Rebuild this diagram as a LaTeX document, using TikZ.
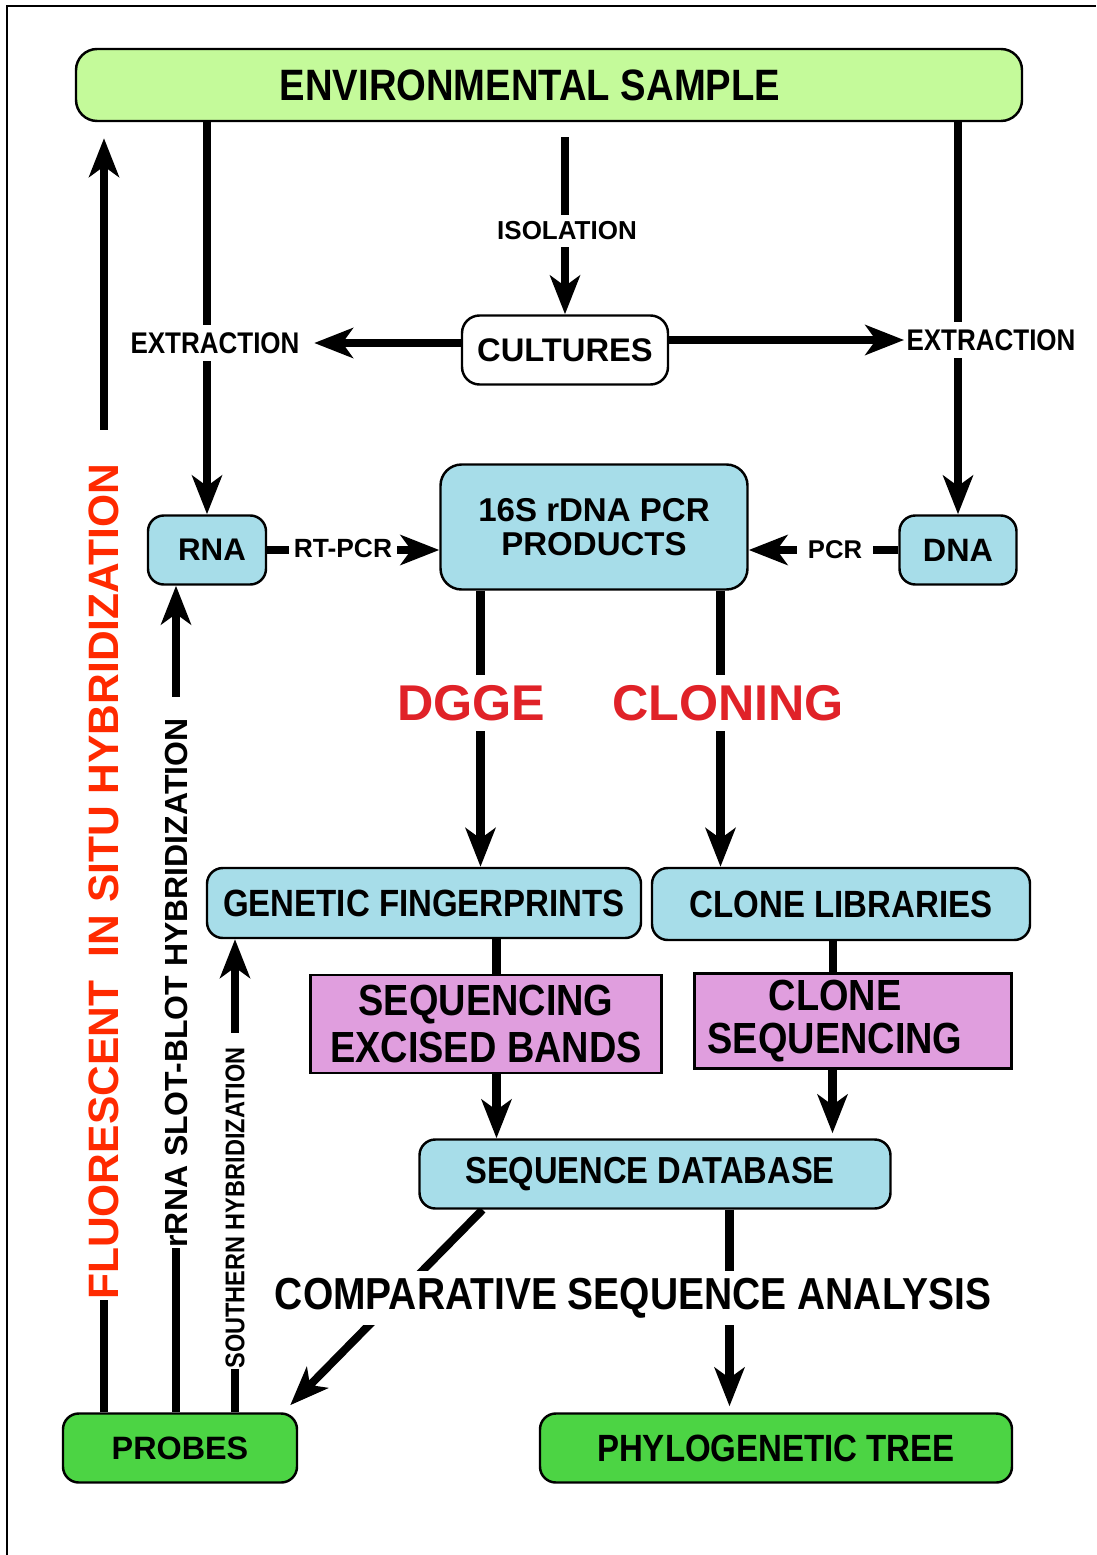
\documentclass[tikz,border=0pt]{standalone}
\usepackage{fontspec}
\setmainfont{Liberation Sans}
\newfontfamily\narrowsf[FakeStretch=0.87]{Liberation Sans}
\usetikzlibrary{arrows.meta, backgrounds}

\definecolor{envgreen}{HTML}{C4FA9A}
\definecolor{boxblue}{HTML}{A7DDE9}
\definecolor{seqpink}{HTML}{E09EDE}
\definecolor{probegreen}{HTML}{4CD444}
\definecolor{dggered}{HTML}{E02228}
\definecolor{fishred}{HTML}{FF2A00}

\newcommand{\fsz}[2]{\fontsize{#1}{#2}\selectfont}

\begin{document}
\begin{tikzpicture}[x=0.1mm, y=-0.1mm,
  box/.style={draw, line width=0.7pt, rounded corners=4.5pt, fill=boxblue, inner sep=0pt, align=center, font=\bfseries},
  seqbox/.style={box, rounded corners=0pt, fill=seqpink, font=\bfseries\narrowsf\fsz{12.4pt}{10.8pt}},
  endbox/.style={box, fill=probegreen, minimum height=6.9mm},
  lbl/.style={fill=white, inner xsep=1.5pt, inner ysep=2pt, font=\bfseries},
  vlbl/.style={rotate=90, inner sep=0pt, font=\bfseries},
  conn/.style={line width=2.3pt},
  arr/.style={conn, -{Stealth[length=11pt, width=8.5pt, inset=3pt]}}]
\useasboundingbox (0,0) rectangle (1096,1555);
\draw[line width=0.7pt] (7,1555) -- (7,6) -- (1096,6);

\node[box, fill=envgreen, rounded corners=6pt, minimum width=94.6mm, minimum height=7.2mm] (env) at (549,85) {\narrowsf\fsz{12.5pt}{12.5pt}ENVIRONMENTAL SAMPLE\hspace*{3.8mm}};
\node[box, fill=white, rounded corners=5pt, minimum width=20.6mm, minimum height=6.9mm] (cultures) at (565,350) {\fsz{9.3pt}{9.3pt}CULTURES};
\node[box, minimum width=11.8mm, minimum height=6.9mm] (rna) at (207,550) {\fsz{8.9pt}{8.9pt}\hspace*{1mm}RNA};
\node[box, rounded corners=6pt, minimum width=30.7mm, minimum height=12.5mm, font=\bfseries\fsz{9.4pt}{9.7pt}] (pcr) at (594,527) {16S rDNA PCR\\PRODUCTS};
\node[box, minimum width=11.7mm, minimum height=6.9mm] (dna) at (958,550) {\fsz{9.2pt}{9.2pt}DNA};
\node[box, minimum width=43.4mm, minimum height=7mm] (gf) at (424,903) {\narrowsf\fsz{10.8pt}{10.8pt}GENETIC FINGERPRINTS};
\node[box, minimum width=37.8mm, minimum height=7.2mm] (cl) at (841,904) {\narrowsf\fsz{10.8pt}{10.8pt}CLONE LIBRARIES};
\node[seqbox, minimum width=35.1mm, minimum height=9.8mm] (seb) at (486,1024) {SEQUENCING\\[1.5pt]EXCISED BANDS};
\node[seqbox, minimum width=31.7mm, minimum height=9.5mm] (cs) at (853,1021) {CLONE\hspace*{3.6mm}\\[1.5pt]SEQUENCING\hspace*{3.6mm}};
\node[box, minimum width=47.1mm, minimum height=6.9mm] (sd) at (655,1174) {\narrowsf\fsz{10.7pt}{10.7pt}SEQUENCE DATABASE\hspace*{1mm}};
\node[endbox, minimum width=23.4mm] (probes) at (180,1448) {\fsz{9.2pt}{9.2pt}PROBES};
\node[endbox, minimum width=47.2mm] (tree) at (776,1448) {\narrowsf\fsz{10.8pt}{10.8pt}PHYLOGENETIC TREE};

\node[lbl] (iso) at (567,231) {\fsz{7.4pt}{7.4pt}ISOLATION};
\node[lbl, inner xsep=1pt] (extl) at (215,343) {\narrowsf\fsz{8.5pt}{8.5pt}EXTRACTION};
\node[lbl, inner xsep=0.5pt] (extr) at (991,340) {\narrowsf\fsz{8.5pt}{8.5pt}EXTRACTION};
\node[lbl] (rtpcr) at (343,548) {\fsz{7.5pt}{7.5pt}RT-PCR};
\node[lbl, inner xsep=3pt] (pcrl) at (835,550) {\fsz{7.3pt}{7.3pt}PCR};
\node[lbl, text=dggered, inner ysep=3pt] (dgge) at (471,703) {\fsz{14.3pt}{14.3pt}DGGE};
\node[lbl, text=dggered, inner ysep=3pt] (cloning) at (728,703) {\fsz{14.3pt}{14.3pt}CLONING};
\node[lbl] (csa) at (633,1298) {\narrowsf\fsz{12.75pt}{12.75pt}COMPARATIVE SEQUENCE ANALYSIS};
\node[vlbl, text=fishred] (fish) at (104,882) {\fsz{12.1pt}{12.1pt}FLUORESCENT~~IN SITU HYBRIDIZATION};
\node[vlbl] (slot) at (176,983) {\fsz{9.1pt}{9.1pt}rRNA SLOT-BLOT HYBRIDIZATION};
\node[vlbl] (south) at (235,1208) {\narrowsf\fsz{7.7pt}{7.7pt}SOUTHERN HYBRIDIZATION};

\begin{scope}[on background layer]
\draw[arr] (env.south -| rna.north) -- (rna.north);
\draw[arr] (env.south -| dna.north) -- (dna.north);
\draw[arr] ([yshift=-1.5mm]env.south -| cultures.north) -- (cultures.north);
\draw[arr, shorten >=3pt] (cultures.west |- extl) -- (extl.east);
\draw[arr] (cultures.east |- extr) -- (extr.west);
\draw[arr] (rna.east) -- (rna.east -| pcr.west);
\draw[arr] (dna.west) -- (dna.west -| pcr.east);
\draw[arr] ([xshift=-11.35mm]pcr.south) -- ([xshift=-11.35mm]pcr.south |- gf.north);
\draw[arr] ([xshift=12.65mm]pcr.south) -- ([xshift=12.65mm]pcr.south |- cl.north);
\draw[conn] ([xshift=1.05mm]seb.north) -- ([xshift=1.05mm]seb.north |- gf.south);
\draw[arr] ([xshift=1.05mm]seb.south) -- ([xshift=1.05mm]seb.south |- sd.north);
\draw[conn] ([xshift=-0.8mm]cl.south) -- ([xshift=-0.8mm]cl.south |- cs.north);
\draw[arr, shorten >=0.5mm] ([xshift=-2.05mm]cs.south) -- ([xshift=-2.05mm]cs.south |- sd.north);
\draw[arr, shorten >=1mm] ([xshift=-17.25mm]sd.south) -- ([xshift=-1.5mm]probes.north east);
\draw[arr, shorten >=0.6mm] ([xshift=7.45mm]sd.south) -- ([xshift=7.45mm]sd.south |- tree.north);
\end{scope}

\draw[conn] (probes.north -| fish.west) -- (fish.west);
\draw[arr, shorten >=1.6mm] ([yshift=3.4mm]fish.east) -- (env.south -| fish.east);
\draw[conn] (probes.north -| slot.west) -- (slot.west);
\draw[arr] ([yshift=2.1mm]slot.east) -- (rna.south -| slot.east);
\draw[conn] (probes.north -| south.west) -- (south.west);
\draw[arr] ([yshift=1.4mm]south.east) -- (gf.south -| south.east);
\end{tikzpicture}
\end{document}
